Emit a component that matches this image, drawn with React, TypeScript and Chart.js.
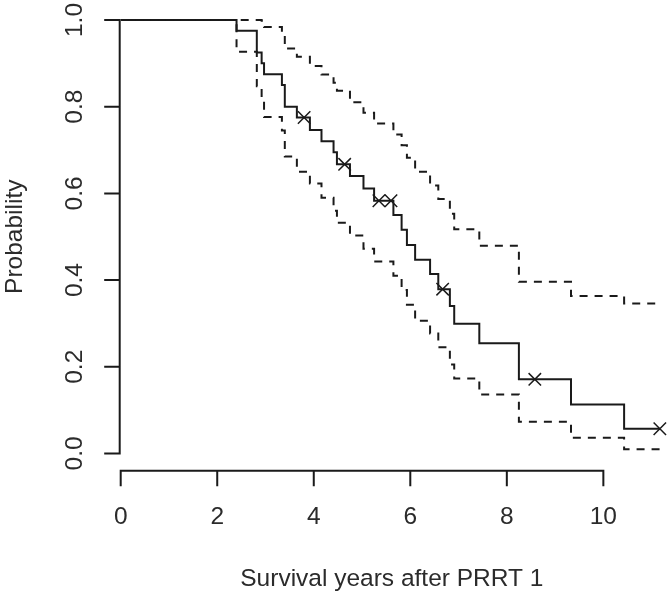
import React, { useEffect, useRef } from 'react';
import { Chart, registerables } from 'chart.js';

Chart.register(...registerables);

// Kaplan-Meier estimate (step times in years)
const times = [0, 2.40, 2.82, 2.92, 2.97, 3.34, 3.40, 3.65, 3.92, 4.16, 4.41, 4.48, 4.75, 5.03, 5.25, 5.65, 5.82, 5.93, 6.10, 6.41, 6.58, 6.82, 6.91, 7.43, 8.25, 9.33, 10.43, 11.17];
const survival = [1.000, 0.975, 0.925, 0.900, 0.875, 0.850, 0.800, 0.775, 0.746, 0.720, 0.695, 0.667, 0.640, 0.611, 0.583, 0.550, 0.516, 0.481, 0.447, 0.414, 0.379, 0.340, 0.299, 0.254, 0.171, 0.113, 0.057, 0.057];
const upperCI = [1, 1, 1, 0.998, 0.984, 0.968, 0.934, 0.915, 0.894, 0.874, 0.855, 0.837, 0.810, 0.786, 0.761, 0.736, 0.711, 0.682, 0.650, 0.618, 0.587, 0.553, 0.517, 0.479, 0.396, 0.363, 0.346, 0.346];
const lowerCI = [1, 0.927, 0.847, 0.812, 0.776, 0.745, 0.685, 0.650, 0.623, 0.590, 0.560, 0.532, 0.503, 0.472, 0.443, 0.410, 0.377, 0.343, 0.306, 0.277, 0.245, 0.205, 0.173, 0.136, 0.073, 0.036, 0.010, 0.010];

// censored observations
const censorTimes = [3.80, 4.64, 5.35, 5.60, 6.67, 8.58, 11.17];
const censorSurvival = [0.775, 0.667, 0.583, 0.583, 0.379, 0.171, 0.057];

// axes
const xTicks = [0, 2, 4, 6, 8, 10];
const xTickLabels = ['0', '2', '4', '6', '8', '10'];
const yTicks = [0, 0.2, 0.4, 0.6, 0.8, 1.0];
const yTickLabels = ['0.0', '0.2', '0.4', '0.6', '0.8', '1.0'];
const xTitle = 'Survival years after PRRT 1';
const yTitle = 'Probability';

const INK = '#1a1a1a';
const TEXT = '#2b2b2b';
const FONT = '24.5px "Liberation Sans", Arial, sans-serif';

const axesPlugin = {
  id: 'rAxes',
  afterDraw(chart: any) {
    const ctx = chart.ctx;
    const xs = chart.scales.x;
    const ys = chart.scales.y;
    const area = chart.chartArea;
    const tick = 15.5;
    ctx.save();
    ctx.strokeStyle = INK;
    ctx.lineWidth = 2;
    ctx.lineCap = 'butt';
    // x axis (R style: spans first to last tick)
    const xb = area.bottom;
    ctx.beginPath();
    ctx.moveTo(xs.getPixelForValue(xTicks[0]) - 1, xb);
    ctx.lineTo(xs.getPixelForValue(xTicks[xTicks.length - 1]) + 1, xb);
    xTicks.forEach((v) => {
      const px = xs.getPixelForValue(v);
      ctx.moveTo(px, xb);
      ctx.lineTo(px, xb + tick);
    });
    ctx.stroke();
    // y axis
    const yl = area.left - 1;
    ctx.beginPath();
    ctx.moveTo(yl, ys.getPixelForValue(yTicks[0]) + 1);
    ctx.lineTo(yl, ys.getPixelForValue(yTicks[yTicks.length - 1]) - 1);
    yTicks.forEach((v) => {
      const py = ys.getPixelForValue(v);
      ctx.moveTo(yl, py);
      ctx.lineTo(yl - tick, py);
    });
    ctx.stroke();

    ctx.fillStyle = TEXT;
    ctx.font = FONT;
    // x tick labels
    ctx.textAlign = 'center';
    ctx.textBaseline = 'alphabetic';
    xTicks.forEach((v, i) => {
      ctx.fillText(xTickLabels[i], xs.getPixelForValue(v), xb + 53);
    });
    // y tick labels (rotated)
    yTicks.forEach((v, i) => {
      ctx.save();
      ctx.translate(yl - 38, ys.getPixelForValue(v));
      ctx.rotate(-Math.PI / 2);
      ctx.textAlign = 'center';
      ctx.fillText(yTickLabels[i], 0, 0);
      ctx.restore();
    });
    // x title
    ctx.fillText(xTitle, (area.left + area.right) / 2 - 3, xb + 115);
    // y title
    ctx.save();
    ctx.translate(22, (ys.getPixelForValue(0) + ys.getPixelForValue(1)) / 2);
    ctx.rotate(-Math.PI / 2);
    ctx.textAlign = 'center';
    ctx.fillText(yTitle, 0, 0);
    ctx.restore();
    ctx.restore();
  },
};

function toPoints(xv: number[], yv: number[]) {
  return xv.map((x, i) => ({ x, y: yv[i] }));
}

export default function App() {
  const ref = useRef<HTMLCanvasElement | null>(null);
  useEffect(() => {
    if (!ref.current) return;
    const chart = new Chart(ref.current, {
      type: 'line',
      data: {
        datasets: [
          {
            label: 'Upper 95% CI',
            data: toPoints(times, upperCI),
            stepped: true,
            borderColor: INK,
            borderWidth: 2,
            borderDash: [8, 7],
            pointRadius: 0,
            fill: false,
          },
          {
            label: 'Lower 95% CI',
            data: toPoints(times, lowerCI),
            stepped: true,
            borderColor: INK,
            borderWidth: 2,
            borderDash: [8, 7],
            pointRadius: 0,
            fill: false,
          },
          {
            label: 'Survival',
            data: toPoints(times, survival),
            stepped: true,
            borderColor: INK,
            borderWidth: 2,
            pointRadius: 0,
            fill: false,
          },
          {
            type: 'scatter',
            label: 'Censored',
            data: toPoints(censorTimes, censorSurvival),
            pointStyle: 'crossRot',
            pointRadius: 8.8,
            borderColor: INK,
            borderWidth: 1.5,
            showLine: false,
          } as any,
        ],
      },
      options: {
        animation: false,
        responsive: false,
        devicePixelRatio: 1,
        layout: { autoPadding: false, padding: { left: 120.7, top: 2.66, right: 0, bottom: 125.2 } },
        scales: {
          x: { type: 'linear', min: 0, max: 11.36, display: false },
          y: { type: 'linear', min: -0.04, max: 1.04, display: false },
        },
        plugins: { legend: { display: false }, tooltip: { enabled: false }, title: { display: false } },
        elements: { line: { tension: 0 } },
      },
      plugins: [axesPlugin],
    } as any);
    return () => chart.destroy();
  }, []);
  return (
    <div style={{ position: 'fixed', left: 0, top: 0, width: 669, height: 596, background: '#fff' }}>
      <canvas ref={ref} width={669} height={596} style={{ width: 669, height: 596, display: 'block' }} />
    </div>
  );
}
